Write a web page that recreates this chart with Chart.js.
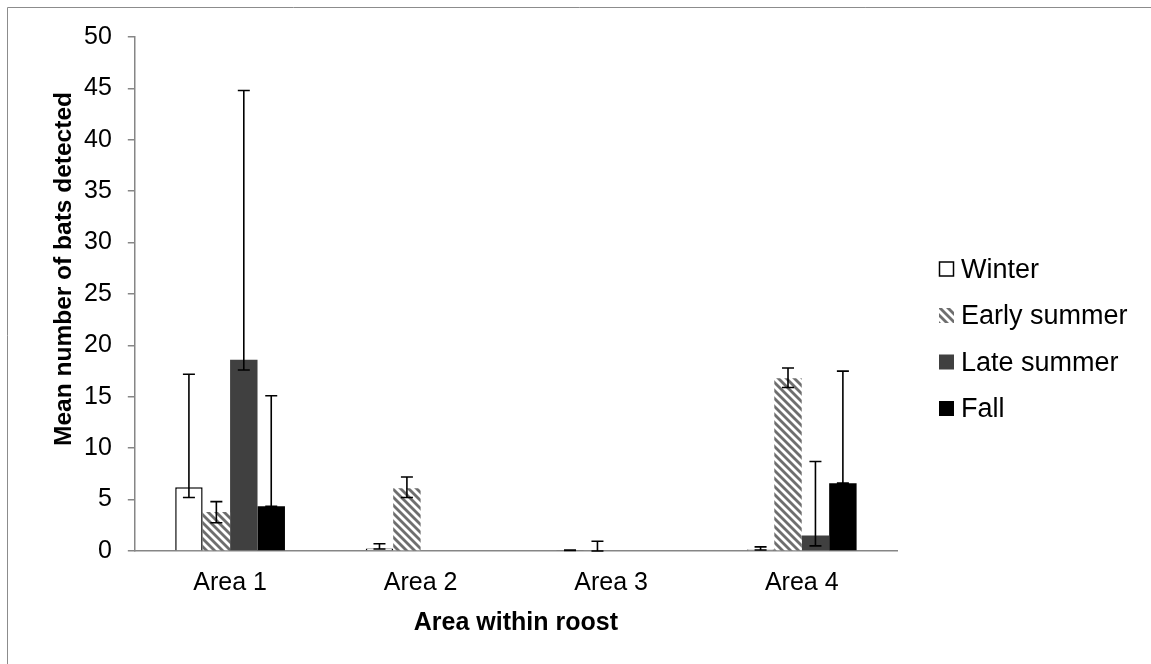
<!DOCTYPE html>
<html>
<head>
<meta charset="utf-8">
<script src="https://cdn.jsdelivr.net/npm/chart.js@4/dist/chart.umd.min.js"></script>
<style>
    html, body { margin: 0; padding: 0; background: #fff; }
    #wrap { width: 1151px; height: 664px; position: relative; }
</style>
</head>
<body>
<div id="wrap"><canvas id="batsChart" width="1151" height="664"></canvas></div>
<script>
// Datos
const areas = ['Area 1', 'Area 2', 'Area 3', 'Area 4'];
const seasons = ['Winter', 'Early summer', 'Late summer', 'Fall'];
const yTicks = [0, 5, 10, 15, 20, 25, 30, 35, 40, 45, 50];

const winterMean = [6.2, 0.25, 0.05, 0.15];
const winterLow = [5.2, 0.2, 0.05, 0.1];
const winterHigh = [17.2, 0.7, 0.1, 0.4];

const earlySummerMean = [3.8, 6.1, 0, 16.8];
const earlySummerLow = [2.75, 5.2, 0, 15.9];
const earlySummerHigh = [4.8, 7.2, 0.95, 17.8];

const lateSummerMean = [18.6, 0, 0, 1.5];
const lateSummerLow = [17.6, 0, 0, 0.5];
const lateSummerHigh = [44.8, 0, 0, 8.7];

const fallMean = [4.35, 0, 0, 6.6];
const fallLow = [4.35, 0, 0, 6.6];
const fallHigh = [15.1, 0, 0, 17.5];

const FONT = '"Liberation Sans", Arial, sans-serif';
const AXIS_GRAY = '#868686';

// Patrón de rayas diagonales para "Early summer"
function makeStripes() {
    const c = document.createElement('canvas');
    c.width = 8;
    c.height = 8;
    const g = c.getContext('2d');
    g.fillStyle = '#fff';
    g.fillRect(0, 0, 8, 8);
    g.strokeStyle = '#6e6e6e';
    g.lineWidth = 2.8;
    [-8, 0, 8].forEach(o => {
        g.beginPath();
        g.moveTo(o - 1, -1);
        g.lineTo(o + 9, 9);
        g.stroke();
    });
    return g.createPattern(c, 'repeat');
}

const stripes = makeStripes();

const errorRanges = [
    [winterLow, winterHigh],
    [earlySummerLow, earlySummerHigh],
    [lateSummerLow, lateSummerHigh],
    [fallLow, fallHigh]
];

// Barras de error dibujadas con la escala y
const errorBars = {
    id: 'errorBars',
    afterDatasetsDraw(chart) {
        const ctx = chart.ctx;
        const yScale = chart.scales.y;
        ctx.save();
        ctx.strokeStyle = '#000';
        ctx.lineWidth = 1.6;
        chart.data.datasets.forEach((ds, i) => {
            const [low, high] = errorRanges[i];
            chart.getDatasetMeta(i).data.forEach((bar, j) => {
                if (high[j] - low[j] <= 0) return;
                const yLo = yScale.getPixelForValue(low[j]);
                const yHi = yScale.getPixelForValue(high[j]);
                ctx.beginPath();
                ctx.moveTo(bar.x, yLo);
                ctx.lineTo(bar.x, yHi);
                ctx.moveTo(bar.x - 6, yHi);
                ctx.lineTo(bar.x + 6, yHi);
                ctx.moveTo(bar.x - 6, yLo);
                ctx.lineTo(bar.x + 6, yLo);
                ctx.stroke();
            });
        });
        ctx.restore();
    }
};

// Marco, título del eje y y leyenda
const decorations = {
    id: 'decorations',
    beforeDraw(chart) {
        const ctx = chart.ctx;
        ctx.save();
        ctx.strokeStyle = '#8c8c8c';
        ctx.lineWidth = 1;
        ctx.beginPath();
        ctx.moveTo(7.5, chart.height);
        ctx.lineTo(7.5, 7.5);
        ctx.lineTo(chart.width, 7.5);
        ctx.stroke();
        ctx.restore();
    },
    afterDraw(chart) {
        const ctx = chart.ctx;
        const area = chart.chartArea;
        ctx.save();
        ctx.translate(64, (area.top + area.bottom) / 2 - 25);
        ctx.rotate(-Math.PI / 2);
        ctx.font = 'bold 24.5px ' + FONT;
        ctx.fillStyle = '#000';
        ctx.textAlign = 'center';
        ctx.textBaseline = 'middle';
        ctx.fillText('Mean number of bats detected', 0, 0);
        ctx.restore();

        ctx.save();
        ctx.font = '27px ' + FONT;
        ctx.textBaseline = 'alphabetic';
        chart.data.datasets.forEach((ds, i) => {
            const base = 277.5 + i * 46.5;
            ctx.fillStyle = ds.backgroundColor;
            ctx.fillRect(939, base - 16, 15, 15);
            if (ds.borderWidth) {
                ctx.strokeStyle = ds.borderColor;
                ctx.lineWidth = 1.5;
                ctx.strokeRect(939.5, base - 15.5, 14, 14);
            }
            ctx.fillStyle = '#000';
            ctx.fillText(ds.label, 961, base);
        });
        ctx.restore();
    }
};

const colors = ['#ffffff', stripes, '#404040', '#000000'];
const means = [winterMean, earlySummerMean, lateSummerMean, fallMean];

new Chart(document.getElementById('batsChart'), {
    type: 'bar',
    data: {
        labels: areas,
        datasets: seasons.map((s, i) => ({
            label: s,
            data: means[i],
            backgroundColor: colors[i],
            borderColor: '#000',
            borderWidth: i === 0 ? 1.5 : 0,
            barPercentage: 1,
            categoryPercentage: 0.576
        }))
    },
    options: {
        responsive: false,
        devicePixelRatio: 1,
        animation: false,
        layout: { padding: { left: 68, right: 254, top: 37, bottom: 26 } },
        plugins: {
            legend: { display: false },
            tooltip: { enabled: false }
        },
        scales: {
            x: {
                grid: { display: false, drawTicks: false },
                border: { display: true, color: AXIS_GRAY, width: 1.5 },
                ticks: { color: '#000', padding: 17, font: { family: FONT, size: 25 } },
                title: {
                    display: true,
                    text: 'Area within roost',
                    color: '#000',
                    padding: { top: -7, bottom: 0 },
                    font: { family: FONT, size: 25, weight: 'bold' }
                }
            },
            y: {
                min: 0,
                max: 50,
                afterBuildTicks: axis => { axis.ticks = yTicks.map(v => ({ value: v })); },
                grid: { drawOnChartArea: false, drawTicks: true, tickLength: 7, color: AXIS_GRAY, lineWidth: 1.5 },
                border: { display: true, color: AXIS_GRAY, width: 1.5 },
                ticks: { color: '#000', padding: 16, font: { family: FONT, size: 25 } }
            }
        }
    },
    plugins: [errorBars, decorations]
});
</script>
</body>
</html>
